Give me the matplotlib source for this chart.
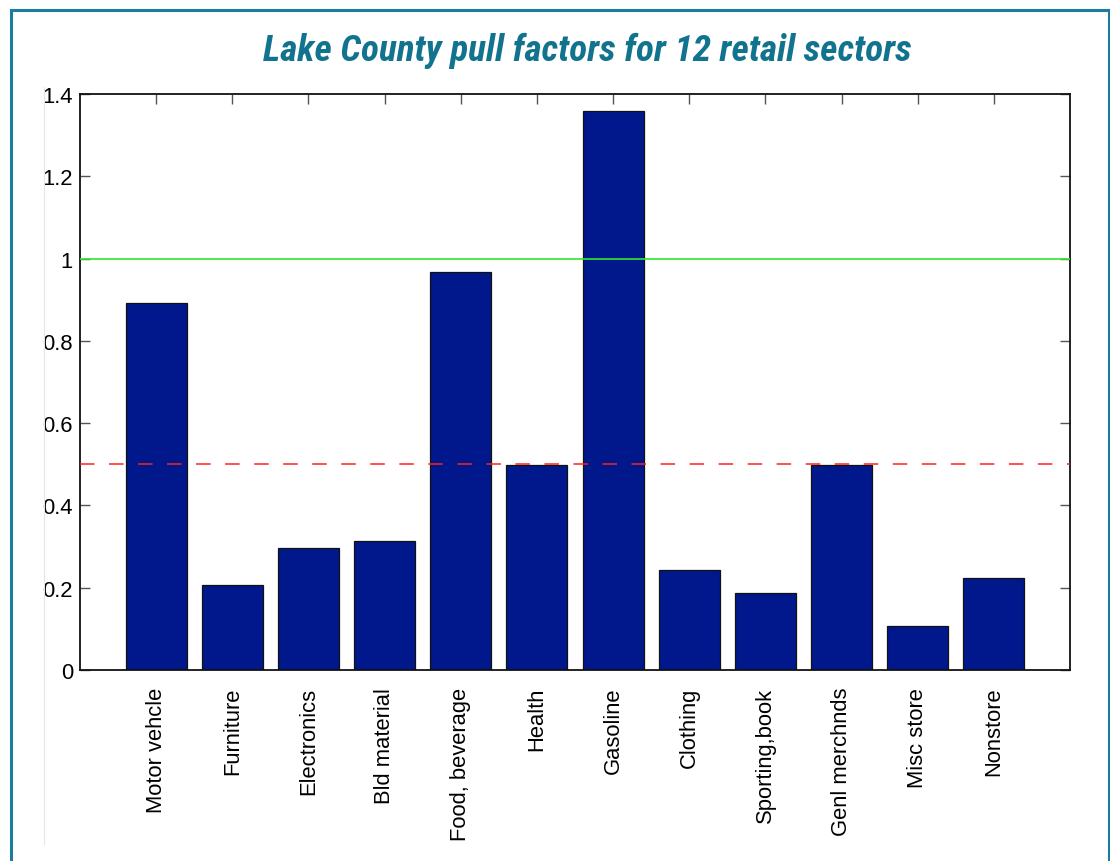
import matplotlib
matplotlib.use("Agg")
import matplotlib.pyplot as plt
from matplotlib.lines import Line2D
from matplotlib import font_manager

categories = ["Motor vehcle", "Furniture", "Electronics", "Bld material", "Food, beverage",
              "Health", "Gasoline", "Clothing", "Sporting,book", "Genl merchnds",
              "Misc store", "Nonstore"]
pull_factors = [0.892, 0.207, 0.297, 0.314, 0.967, 0.498, 1.359, 0.244, 0.188, 0.498, 0.106, 0.224]
y_ticks = [0, 0.2, 0.4, 0.6, 0.8, 1.0, 1.2, 1.4]
y_tick_labels = ["0", "0.2", "0.4", "0.6", "0.8", "1", "1.2", "1.4"]
reference_level = 1.0
threshold_level = 0.5
title = "Lake County pull factors for 12 retail sectors"

W, H = 1110, 862
fig = plt.figure(figsize=(W / 100, H / 100), dpi=100)

names = {f.name for f in font_manager.fontManager.ttflist}
tick_font = "Liberation Sans" if "Liberation Sans" in names else "DejaVu Sans"
title_font = tick_font
for cand in ["Roboto Condensed", "Liberation Sans Narrow", "DejaVu Sans Condensed",
             "Open Sans Condensed", "Noto Sans Condensed"]:
    if cand in names:
        title_font = cand
        break

# outer frame
teal = "#1b7c9c"
def fline(x0, y0, x1, y1, **kw):
    fig.add_artist(Line2D([x0 / W, x1 / W], [1 - y0 / H, 1 - y1 / H],
                          transform=fig.transFigure, **kw))
fline(10.5, 10.5, 10.5, H, color=teal, lw=2.2)
fline(10.5, 10.5, 1108.5, 10.5, color=teal, lw=2.2)
fline(1108.5, 10.5, 1108.5, H, color=teal, lw=2.2)
fline(43.5, 88, 43.5, 845, color="#e6e6e6", lw=0.8)

ax = fig.add_axes([80 / W, (H - 671) / H, 990 / W, 576 / H])
x = list(range(1, len(categories) + 1))
ax.bar(x, pull_factors, width=0.8, color="#00188c", edgecolor="#111111", linewidth=0.9, zorder=2)
ax.axhline(reference_level, color="#2ee82e", lw=1.2, zorder=3)
ax.axhline(threshold_level, color="#ff2020", lw=1.1, dashes=(9.5, 9.5), zorder=3)

ax.set_xlim(0, 13)
ax.set_ylim(0, 1.4)
ax.set_xticks(x)
ax.set_xticklabels(categories, rotation=90, fontsize=15.8, family=tick_font, va="top", ha="center")
ax.set_yticks(y_ticks)
ax.set_yticklabels(y_tick_labels, fontsize=15.8, family=tick_font)
ax.tick_params(axis="both", direction="in", length=7, width=1, color="#555555",
               top=True, right=True)
ax.tick_params(axis="x", pad=12)
ax.tick_params(axis="y", pad=5)
for s in ax.spines.values():
    s.set_linewidth(1.3)
    s.set_color("#111111")

t = fig.text(587 / W, 1 - 51 / H, title, ha="center", va="center", fontsize=29,
             fontweight="bold", fontstyle="italic", color="#12738f", family=title_font)
# fit title width to ~650 px
r = fig.canvas.get_renderer()
w = t.get_window_extent(renderer=r).width
if w > 0:
    t.set_fontsize(29 * 650 / w)

fig.savefig("out.png", dpi=100)
